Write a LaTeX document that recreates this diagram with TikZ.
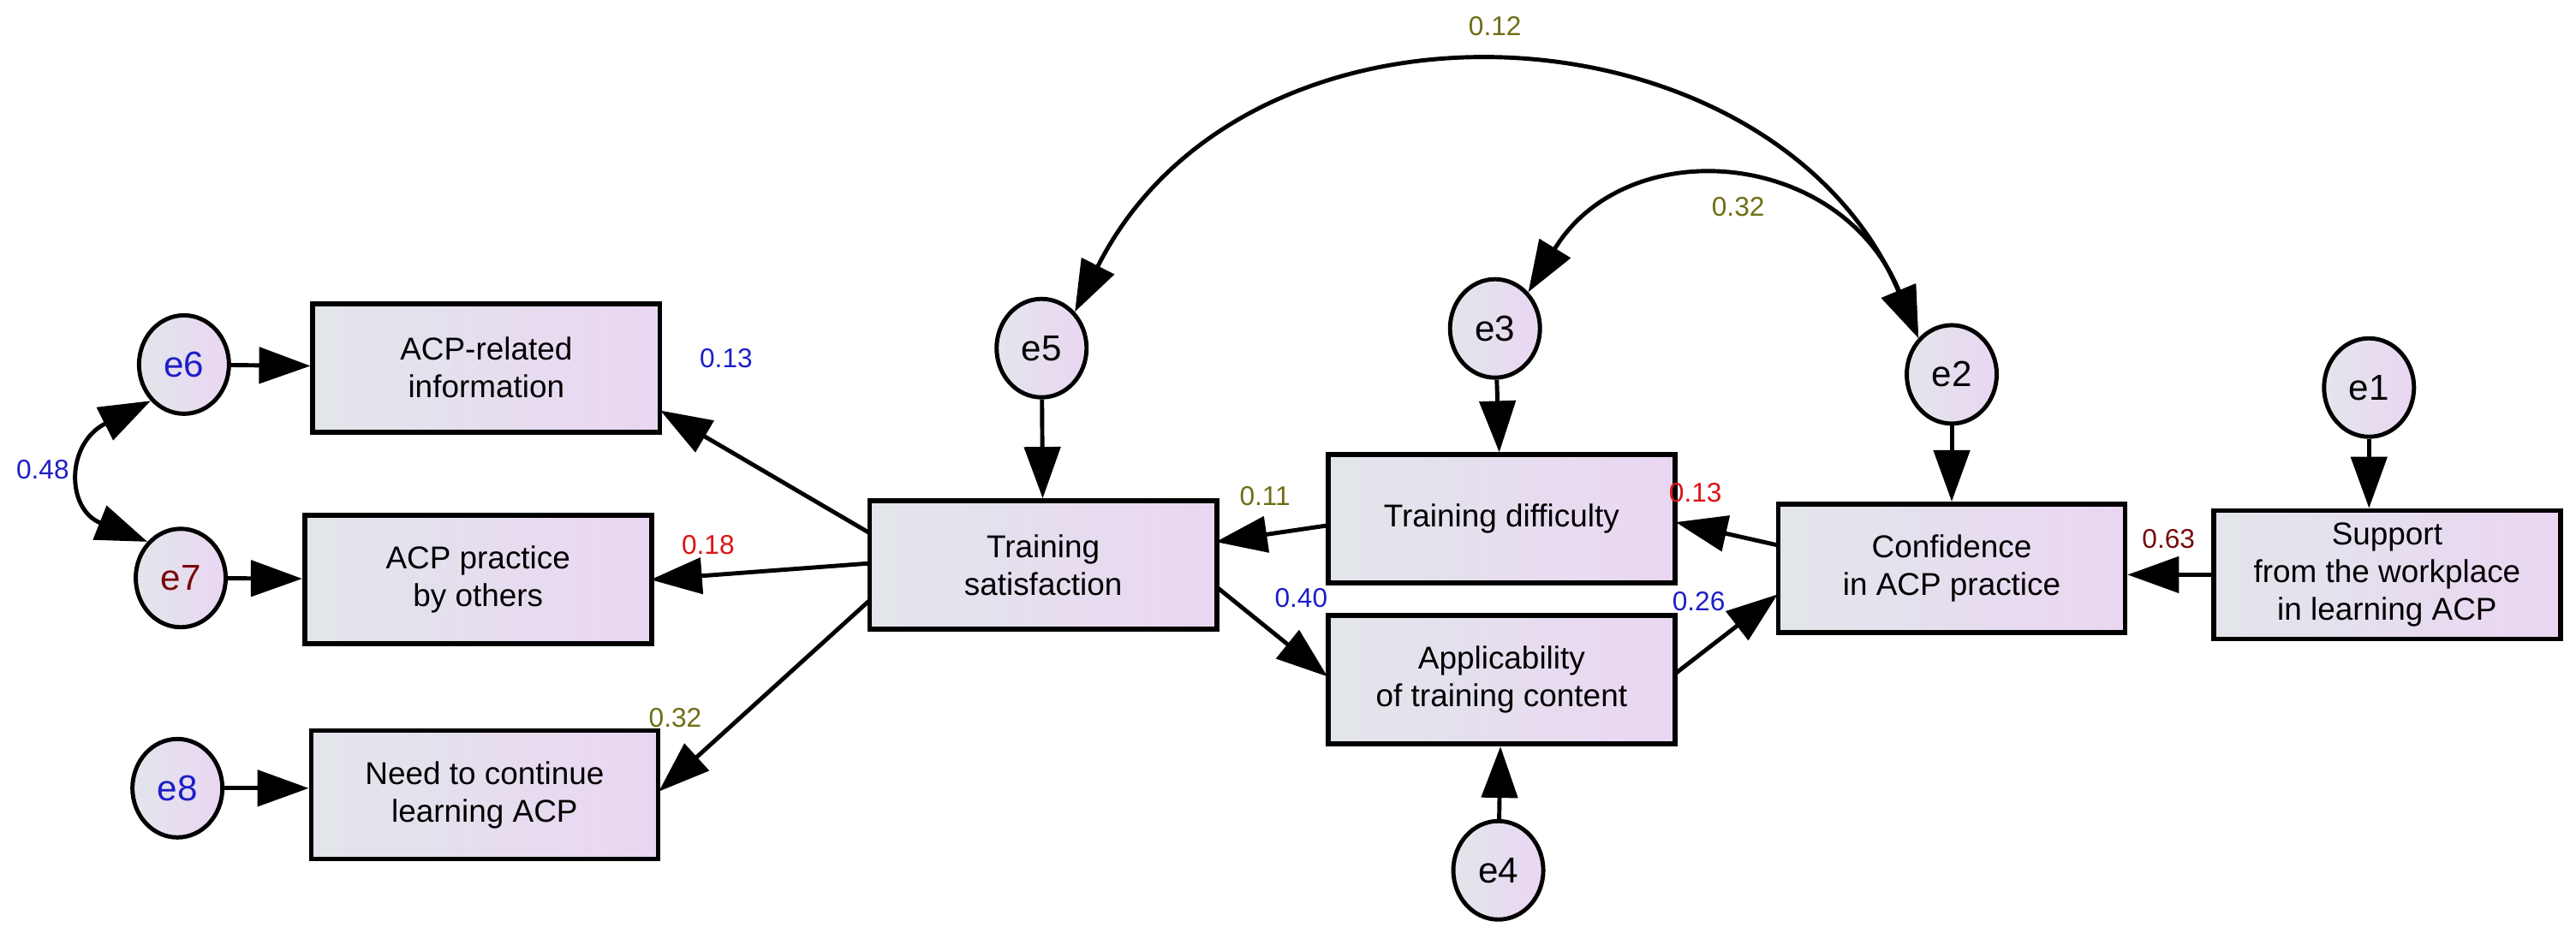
\documentclass[tikz,border=0pt]{standalone}
\usepackage{fontspec}
\setmainfont{Liberation Sans}
\usetikzlibrary{arrows.meta,shadings,shapes.geometric}
\definecolor{lblue}{RGB}{30,30,200}
\definecolor{lred}{RGB}{220,20,20}
\definecolor{lolive}{RGB}{110,110,20}
\definecolor{ldred}{RGB}{120,10,10}
\definecolor{fl}{RGB}{226,230,234}
\definecolor{fr}{RGB}{234,214,242}
\tikzset{
  box/.style={draw=black,line width=1.6pt,left color=fl,right color=fr,minimum width=4.05cm,minimum height=1.5cm,align=center,font=\fontsize{10.5}{12.5}\selectfont},
  err/.style={draw=black,line width=1.4pt,ellipse,left color=fl,right color=fr,minimum width=1.05cm,minimum height=1.15cm,inner sep=0pt,font=\fontsize{12}{14}\selectfont},
  arr/.style={line width=1.4pt,-{Triangle[length=0.6cm,width=0.42cm]}},
  darr/.style={line width=1.4pt,{Triangle[length=0.6cm,width=0.42cm]}-{Triangle[length=0.6cm,width=0.42cm]}},
  lab/.style={font=\fontsize{9}{10}\selectfont,inner sep=0pt}
}
\begin{document}
\begin{tikzpicture}[x=0.019184cm,y=-0.019184cm]
\useasboundingbox (0,0) rectangle (1568,568);
\node[box] (info) at (296,224) {ACP-related\\information};
\node[box] (oth) at (291,353) {ACP practice\\by others};
\node[box] (need) at (295,484) {Need to continue\\learning ACP};
\node[box] (ts) at (635,344) {Training\\satisfaction};
\node[box] (td) at (914,316) {Training difficulty};
\node[box] (app) at (914,414) {Applicability\\of training content};
\node[box] (conf) at (1188,346) {Confidence\\in ACP practice};
\node[box] (sup) at (1453,350) {Support\\from the workplace\\in learning ACP};
\node[err] (e6) at (112,222) {\textcolor{lblue}{e6}};
\node[err] (e7) at (110,352) {\textcolor{ldred}{e7}};
\node[err] (e8) at (108,480) {\textcolor{lblue}{e8}};
\node[err] (e5) at (634,212) {e5};
\node[err] (e3) at (910,200) {e3};
\node[err] (e4) at (912,530) {e4};
\node[err] (e2) at (1188,228) {e2};
\node[err] (e1) at (1442,236) {e1};
% error arrows
\draw[arr] (e6) -- (info);
\draw[arr] (e7) -- (oth);
\draw[arr] (e8) -- (need.west |- e8);
\draw[arr] (e5) -- (ts);
\draw[arr] (e3) -- (td);
\draw[arr] (e4) -- (app);
\draw[arr] (e2) -- (conf);
\draw[arr] (e1) -- (sup.north -| e1);
% connection points
\coordinate (tsa) at (530,325);
\coordinate (tsb) at (530,343);
\coordinate (tsc) at (530,365);
\coordinate (tsd) at (740,330);
\coordinate (tse) at (740,357);
\coordinate (infoa) at (402,250);
\coordinate (otha) at (396,353);
\coordinate (needa) at (401,482);
\coordinate (tda) at (808,320);
\coordinate (tdb) at (1020,318);
\coordinate (appa) at (808,412);
\coordinate (appb) at (1020,410);
\coordinate (confa) at (1082,332);
\coordinate (confb) at (1082,362);
\draw[arr] (tsa) -- (infoa);
\draw[arr] (tsb) -- (otha);
\draw[arr] (tsc) -- (needa);
\draw[arr] (tda) -- (tsd);
\draw[arr] (tse) -- (appa);
\draw[arr] (confa) -- (tdb);
\draw[arr] (appb) -- (confb);
\draw[arr] (sup.west) -- (sup.west -| conf.east);
% covariances
\draw[darr] (e5.north east) .. controls (760,-20) and (1080,0) .. (e2.north west);
\draw[darr] (e3.north east) .. controls (990,80) and (1120,90) .. (e2.north west);
\draw[darr] (e6.south west) .. controls (40,270) and (40,310) .. (e7.north west);
% labels
\node[lab,text=lolive] at (910,16) {0.12};
\node[lab,text=lolive] at (1058,126) {0.32};
\node[lab,text=lblue] at (442,218) {0.13};
\node[lab,text=lred] at (431,332) {0.18};
\node[lab,text=lolive] at (411,437) {0.32};
\node[lab,text=lblue] at (26,286) {0.48};
\node[lab,text=lolive] at (770,302) {0.11};
\node[lab,text=lblue] at (792,364) {0.40};
\node[lab,text=lred] at (1032,300) {0.13};
\node[lab,text=lblue] at (1034,366) {0.26};
\node[lab,text=ldred] at (1320,328) {0.63};
\end{tikzpicture}
\end{document}
